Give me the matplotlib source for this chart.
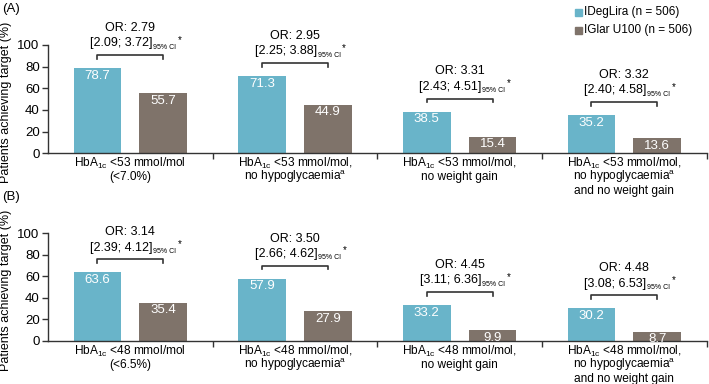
import matplotlib.pyplot as plt
from matplotlib.patches import Rectangle
import numpy as np

plt.rcParams['font.family'] = ['Liberation Sans', 'DejaVu Sans']
plt.rcParams['mathtext.fontset'] = 'custom'
plt.rcParams['mathtext.rm'] = 'Liberation Sans'
plt.rcParams['mathtext.it'] = 'Liberation Sans:italic'
plt.rcParams['mathtext.default'] = 'regular'

# panel A: HbA1c <53 mmol/mol
labels_a = ["HbA$_{1c}$ <53 mmol/mol\n(<7.0%)",
            "HbA$_{1c}$ <53 mmol/mol,\nno hypoglycaemia$^{a}$",
            "HbA$_{1c}$ <53 mmol/mol,\nno weight gain",
            "HbA$_{1c}$ <53 mmol/mol,\nno hypoglycaemia$^{a}$\nand no weight gain"]
ideglira_a = [78.7, 71.3, 38.5, 35.2]
iglar_a = [55.7, 44.9, 15.4, 13.6]
or_a = ["2.79", "2.95", "3.31", "3.32"]
ci_a = ["2.09; 3.72", "2.25; 3.88", "2.43; 4.51", "2.40; 4.58"]

# panel B: HbA1c <48 mmol/mol
labels_b = ["HbA$_{1c}$ <48 mmol/mol\n(<6.5%)",
            "HbA$_{1c}$ <48 mmol/mol,\nno hypoglycaemia$^{a}$",
            "HbA$_{1c}$ <48 mmol/mol,\nno weight gain",
            "HbA$_{1c}$ <48 mmol/mol,\nno hypoglycaemia$^{a}$\nand no weight gain"]
ideglira_b = [63.6, 57.9, 33.2, 30.2]
iglar_b = [35.4, 27.9, 9.9, 8.7]
or_b = ["3.14", "3.50", "4.45", "4.48"]
ci_b = ["2.39; 4.12", "2.66; 4.62", "3.11; 6.36", "3.08; 6.53"]

series_names = ["IDegLira (n = 506)", "IGlar U100 (n = 506)"]
blue = "#69b4c9"
brown = "#7f736a"
axis_col = "#333333"

fig = plt.figure(figsize=(7.09, 3.84), dpi=100)


def draw_panel(ax, labels, v1, v2, ors, cis):
    x = np.arange(len(labels))
    off = 0.2
    w = 0.29
    ax.bar(x - off, v1, w, color=blue)
    ax.bar(x + off, v2, w, color=brown)
    for i in range(len(x)):
        ax.text(x[i] - off, v1[i] - 1.5, f"{v1[i]:.1f}", ha='center', va='top',
                color='white', fontsize=9.5)
        ax.text(x[i] + off, v2[i] - 1.5, f"{v2[i]:.1f}", ha='center', va='top',
                color='white', fontsize=9.5)
        # odds ratio bracket
        top = v1[i] + 12
        ax.plot([x[i] - off, x[i] - off, x[i] + off, x[i] + off],
                [top - 3.5, top, top, top - 3.5], color=axis_col, lw=1.2,
                clip_on=False)
        ci = ax.text(x[i] - 0.055, top + 11, "[" + cis[i] + "]",
                     ha='center', va='center', fontsize=9, clip_on=False)
        sub = ax.annotate("95% CI", xy=(1, 0.15), xycoords=ci,
                          xytext=(0.5, 0), textcoords='offset points',
                          fontsize=5, ha='left', va='center')
        ax.annotate("*", xy=(1, 1), xycoords=sub, xytext=(1, 3),
                    textcoords='offset points', fontsize=7, ha='left', va='center')
        ax.text(x[i], top + 25, "OR: " + ors[i], ha='center', va='center',
                fontsize=9, clip_on=False)
        # category label, one line at a time
        for j, line in enumerate(labels[i].split("\n")):
            ax.annotate(line, xy=(x[i], 0), xycoords=('data', 'axes fraction'),
                        xytext=(0, -9.8 - 9.7 * j), textcoords='offset points',
                        ha='center', va='baseline', fontsize=8.6,
                        annotation_clip=False)
    ax.set_xlim(-0.5, 3.5)
    ax.set_ylim(0, 100)
    ax.set_yticks([0, 20, 40, 60, 80, 100])
    ax.set_xticks([0.5, 1.5, 2.5, 3.5])
    ax.set_xticklabels([])
    ax.tick_params(axis='x', length=4, width=1, color=axis_col)
    ax.tick_params(axis='y', length=4, width=1, color=axis_col, labelsize=9.5, pad=2)
    for s in ['top', 'right']:
        ax.spines[s].set_visible(False)
    for s in ['left', 'bottom']:
        ax.spines[s].set_color(axis_col)
        ax.spines[s].set_linewidth(1)
    ax.set_ylabel("Patients achieving target (%)", fontsize=9)
    ax.yaxis.set_label_coords(-0.054, 0.47)


ax_a = fig.add_axes([0.0677, 0.601, 0.929, 0.282])
draw_panel(ax_a, labels_a, ideglira_a, iglar_a, or_a, ci_a)
ax_b = fig.add_axes([0.0677, 0.112, 0.929, 0.281])
draw_panel(ax_b, labels_b, ideglira_b, iglar_b, or_b, ci_b)

fig.text(0.003, 0.976, "(A)", fontsize=9.5, va='center')
fig.text(0.003, 0.487, "(B)", fontsize=9.5, va='center')

# legend
for i, (name, c) in enumerate(zip(series_names, [blue, brown])):
    y = 1 - (12.5 + 17.5 * i) / 384
    fig.patches.append(Rectangle((575 / 709, y - 3.5 / 384), 7 / 709, 7 / 384,
                                 color=c, transform=fig.transFigure))
    fig.text(584 / 709, y, name, fontsize=8.5, va='center')

plt.savefig("out.png", dpi=100)
